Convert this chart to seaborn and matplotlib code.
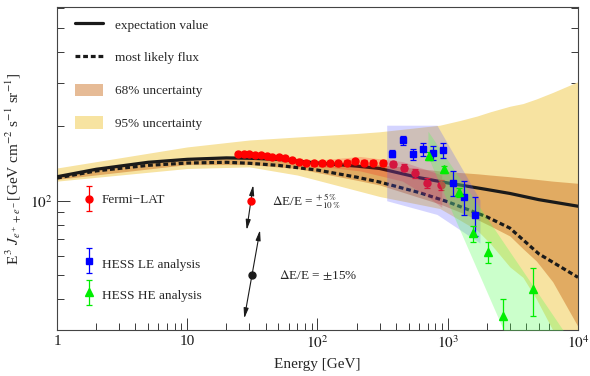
import matplotlib
matplotlib.use("Agg")
import matplotlib.pyplot as plt
import seaborn as sns
from matplotlib.lines import Line2D
from matplotlib.patches import Patch
from matplotlib.container import ErrorbarContainer
from matplotlib.legend_handler import HandlerErrorbar
from matplotlib.ticker import FixedLocator, NullFormatter

# model curves
E_model = [1, 2, 5, 10, 20, 30, 50, 100, 200, 300, 600, 1000, 2000, 3000, 5000, 10000]
expect = [125, 134, 143, 147, 149, 148.5, 147, 142, 138, 135, 124, 118, 111, 107, 101, 95]
likely = [123.5, 132, 139, 142, 143, 141.7, 139, 133, 124.5, 119, 108, 99, 86, 77.5, 61, 49]

# uncertainty bands
E_band = [1, 10, 30, 70, 100, 200, 300, 870, 1240, 1680, 2130, 3000, 3780, 4800, 6400, 10000]
ci95_hi = [135.6, 165, 176, 181, 183, 187, 190, 202, 211, 220, 229, 241, 247, 258, 274, 303]
ci95_lo = [120, 135, 137, 127, 121, 110, 104, 93, 83.5, 76, 67, 54, 49, 40, 30, 18]
ci68_hi = [127, 149.5, 150.5, 147.5, 145, 141.5, 140, 132, 130, 128.5, 127, 125, 123.5, 122, 120, 117.6]
ci68_lo = [122, 140, 140, 135, 130, 121, 115.8, 97, 90, 84, 79, 72, 64, 57, 47, 31]

# Fermi-LAT
fermi_E = [24.7, 27.3, 29.9, 33, 36.8, 40.7, 45, 50.4, 56.6, 63.4, 72.5, 81.6, 94,
           108, 125, 144, 168, 194, 228, 265, 320, 382, 461, 563, 697, 892]
fermi_flux = [154, 155, 154, 153.5, 152.7, 152, 150.7, 149.8, 148.4, 146, 143.8, 142.5, 141.7,
              141.7, 141.7, 141.7, 142.5, 144.4, 142.5, 142.5, 142, 140.4, 136, 129, 117.6, 115.8]
fermi_err = [3, 3, 3, 3, 3, 3, 3, 3, 3, 3, 3, 3, 3,
             3, 3, 3, 3, 3, 3.2, 3.4, 3.6, 4, 4.5, 5, 5.5, 5.5]
fsys_E = [100, 212, 450, 700, 900]
fsys_lo = [138, 132, 120, 104, 94]
fsys_hi = [146, 151, 144, 133, 127]

# HESS LE
le_E = [375, 451, 537, 641, 765, 925, 1104, 1333, 1611]
le_flux = [155, 175.6, 154, 161.5, 156.5, 160.4, 118.3, 103.8, 87.5]
le_err = [5.4, 7.9, 8.2, 10, 10, 11.5, 13.6, 16.5, 15.8]
lesys_E = [340, 827, 1768]
lesys_hi = [202, 202, 100.7]
lesys_lo = [100, 88, 67.4]

# HESS HE
he_E = [712, 939, 1224, 1571, 2056, 2671, 4537]
he_flux = [151.7, 134, 108, 73.8, 62.2, 34.3, 43.8]
he_err = [5.8, 4.7, 4.9, 5.5, 6.1, 5.8, 9.5]
hesys_E = [705, 983, 1680, 2680, 7670]
hesys_hi = [191, 147.5, 97.5, 67.8, 30]
hesys_lo = [150.7, 100.7, 52.7, 30, 8.4]

c95 = "#F7E3A1"
c68 = (200 / 255, 104 / 255, 22 / 255, 0.45)

sns.set_theme(style="ticks")
plt.rcParams["font.family"] = ["Liberation Serif", "DejaVu Serif"]
plt.rcParams["mathtext.fontset"] = "stix"

fig = plt.figure(figsize=(5.9, 3.76), dpi=100)
ax = fig.add_axes([0.0966, 0.1223, 0.883, 0.859])
ax.set_xscale("log")
ax.set_yscale("log")

ax.fill_between(E_band, ci95_lo, ci95_hi, color=c95, lw=0, zorder=1)
ax.fill_between(E_band, ci68_lo, ci68_hi, color=c68, lw=0, zorder=2)

dash = (0, (1.5, 0.9))
sns.lineplot(x=E_model, y=expect, ax=ax, color="k", lw=2.3, zorder=3)
sns.lineplot(x=E_model, y=likely, ax=ax, color="k", lw=2.3, linestyle=dash, zorder=3)

ax.fill_between(fsys_E, fsys_lo, fsys_hi, color="red", alpha=0.2, lw=0, zorder=4)
eb_f = ax.errorbar(fermi_E, fermi_flux, yerr=fermi_err, fmt="o", color="red", ms=5,
                   capsize=2, elinewidth=0.9, capthick=0.9, zorder=5)

ax.fill_between(lesys_E, lesys_lo, lesys_hi, color="#5555FF", alpha=0.25, lw=0, zorder=6)
ax.fill_between(hesys_E, hesys_lo, hesys_hi, color="#55FF55", alpha=0.3, lw=0, zorder=6)
eb_le = ax.errorbar(le_E, le_flux, yerr=le_err, fmt="s", color="blue", ms=4.5,
                    capsize=2.5, elinewidth=0.9, capthick=0.9, zorder=7)
eb_he = ax.errorbar(he_E, he_flux, yerr=he_err, fmt="^", color="#00EE00", ms=6,
                    capsize=2.5, elinewidth=0.9, capthick=0.9, zorder=7)

# energy scale arrows
arr = dict(arrowstyle="<|-|>,head_length=0.5,head_width=0.12", color="k", lw=0.8,
           shrinkA=0, shrinkB=0)
ax.annotate("", xy=(32.1, 115.7), xytext=(28.6, 76.1), arrowprops=arr, zorder=8)
ax.plot([30.7], [100], "o", color="red", ms=5, zorder=9)
ax.annotate("", xy=(36.2, 76.1), xytext=(27.4, 33.4), arrowprops=arr, zorder=8)
ax.plot([31.2], [50], "o", color="k", ms=5, zorder=9)
ax.text(44.7, 100, r"$\Delta$E/E = ${}^{+\,5\,\%}_{-10\,\%}$", fontsize=9.5, va="center", zorder=9)
ax.text(50.6, 50, r"$\Delta$E/E = $\pm$15%", fontsize=9.5, va="center", zorder=9)

ax.set_xlim(1, 1e4)
ax.set_ylim(30, 607)

ax.xaxis.set_major_locator(FixedLocator([1, 10, 100, 1000, 10000]))
ax.set_xticklabels(["1", "10", "$10^2$", "$10^3$", "$10^4$"])
ax.yaxis.set_major_locator(FixedLocator([100]))
ax.set_yticklabels(["$10^2$"])
ax.yaxis.set_minor_locator(FixedLocator([30, 40, 50, 60, 70, 80, 90, 200, 300, 400, 500, 600]))
ax.yaxis.set_minor_formatter(NullFormatter())
ax.xaxis.set_minor_formatter(NullFormatter())
ax.tick_params(which="both", direction="in", right=True, top=False, labelsize=11,
               colors="k", width=0.6)
ax.tick_params(which="major", length=9)
ax.tick_params(which="minor", length=5)
for s in ax.spines.values():
    s.set_linewidth(0.8)
    s.set_color("#444444")

ax.set_xlabel("Energy [GeV]", fontsize=11, labelpad=5)
ax.set_ylabel(r"E$^{\,3}$ $J_{e^+ + e^-}$[GeV cm$^{-2}$ s$^{-1}$ sr$^{-1}$]", fontsize=11, labelpad=4)

h1 = [Line2D([], [], color="k", lw=2.3),
      Line2D([], [], color="k", lw=2.3, ls=dash),
      Patch(facecolor=c68, lw=0),
      Patch(facecolor=c95, lw=0)]
leg1 = ax.legend(h1, ["expectation value", "most likely flux", "68% uncertainty", "95% uncertainty"],
                 loc="upper left", bbox_to_anchor=(0.0345, 0.966), frameon=False, fontsize=9.5,
                 handlelength=2.1, handleheight=1.05, handletextpad=0.9, labelspacing=1.45,
                 borderpad=0, borderaxespad=0)
ax.add_artist(leg1)

hm = {ErrorbarContainer: HandlerErrorbar(yerr_size=0.95)}
leg2 = ax.legend([eb_f], ["Fermi\u2212LAT"], loc="center left", bbox_to_anchor=(0.0513, 0.4025),
                 frameon=False, fontsize=9.5, handlelength=0.8, handletextpad=0.56,
                 borderpad=0, borderaxespad=0, handler_map=hm)
ax.add_artist(leg2)
leg3 = ax.legend([eb_le, eb_he], ["HESS LE analysis", "HESS HE analysis"], loc="center left",
                 bbox_to_anchor=(0.0513, 0.156), frameon=False, fontsize=9.5, handlelength=0.8,
                 handletextpad=0.56, handleheight=2.0, labelspacing=0.83,
                 borderpad=0, borderaxespad=0, handler_map=hm)

fig.savefig("out.png", dpi=100)
